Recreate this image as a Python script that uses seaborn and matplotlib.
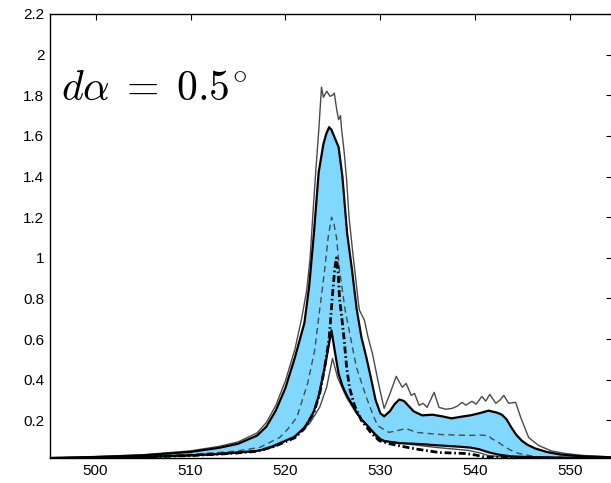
import matplotlib
matplotlib.use("Agg")
import matplotlib.pyplot as plt
import seaborn as sns

# ---------------- data ----------------
X_BAND = [495.3, 500, 505, 510, 513, 515, 517, 518, 519, 520,
          521, 522, 522.5, 523, 523.5, 524, 524.3, 524.6, 524.85, 525.2,
          525.6, 526, 526.5, 527, 527.5, 528, 528.5, 529, 529.5, 530,
          530.4, 531, 531.5, 532, 532.5, 533, 533.5, 534.4, 535.5, 536.5,
          537.5, 538.5, 539.5, 540.4, 541.4, 542.3, 542.8, 543.3, 543.8, 544.3,
          544.9, 545.5, 546.3, 547.5, 549, 551, 554.5]
UPPER = [0.015, 0.020, 0.028, 0.045, 0.065, 0.085, 0.125, 0.17, 0.25, 0.36,
         0.51, 0.68, 0.86, 1.12, 1.42, 1.56, 1.61, 1.643, 1.63, 1.59,
         1.545, 1.40, 1.12, 0.945, 0.75, 0.61, 0.515, 0.41, 0.30, 0.235,
         0.22, 0.245, 0.28, 0.303, 0.295, 0.27, 0.245, 0.225, 0.228, 0.22,
         0.21, 0.218, 0.225, 0.235, 0.248, 0.238, 0.228, 0.205, 0.165, 0.13,
         0.10, 0.08, 0.062, 0.045, 0.032, 0.024, 0.018]
LOWER = [0.012, 0.015, 0.020, 0.028, 0.035, 0.042, 0.050, 0.060, 0.080, 0.100,
         0.120, 0.165, 0.200, 0.245, 0.320, 0.430, 0.500, 0.580, 0.643, 0.540,
         0.430, 0.370, 0.320, 0.280, 0.240, 0.205, 0.180, 0.155, 0.130, 0.108,
         0.098, 0.094, 0.091, 0.088, 0.087, 0.086, 0.085, 0.083, 0.079, 0.076,
         0.073, 0.070, 0.066, 0.058, 0.043, 0.033, 0.029, 0.026, 0.023, 0.022,
         0.021, 0.020, 0.019, 0.018, 0.017, 0.016, 0.014]

X_MAX = [495.3, 500, 505, 510, 513, 515, 517, 518, 519, 520,
         521, 521.7, 522.24, 522.6, 522.9, 523.2, 523.5, 523.8, 524.0, 524.35,
         524.7, 524.95, 525.15, 525.4, 525.6, 525.8, 525.9, 526.2, 526.45, 526.7,
         527.06, 527.4, 527.69, 527.8, 528.32, 528.7, 529.16, 529.89, 530.4, 531.0,
         531.67, 532.3, 532.72, 533.25, 533.6, 534.08, 534.5, 534.92, 535.66, 536.18,
         536.9, 537.54, 538.1, 538.6, 539.0, 539.64, 540.1, 540.69, 541.1, 541.53,
         542.16, 542.6, 543.0, 543.52, 544.25, 544.78, 545.62, 546.66, 548.0, 549.5,
         551.5, 554.5]
Y_MAX = [0.017, 0.022, 0.031, 0.050, 0.072, 0.094, 0.138, 0.19, 0.275, 0.395,
         0.55, 0.70, 0.84, 1.00, 1.22, 1.43, 1.62, 1.84, 1.79, 1.82,
         1.795, 1.80, 1.81, 1.73, 1.68, 1.70, 1.64, 1.515, 1.38, 1.20,
         1.04, 0.90, 0.776, 0.742, 0.693, 0.61, 0.53, 0.363, 0.259, 0.33,
         0.417, 0.363, 0.382, 0.323, 0.333, 0.274, 0.284, 0.264, 0.338, 0.264,
         0.255, 0.259, 0.27, 0.289, 0.275, 0.294, 0.28, 0.318, 0.295, 0.328,
         0.284, 0.30, 0.323, 0.284, 0.289, 0.215, 0.116, 0.077, 0.05, 0.037,
         0.027, 0.02]

X_MID = [495.3, 500, 505, 510, 513, 515, 517.3, 519.4, 520.3, 521.2,
         522.34, 523.08, 523.6, 524.13, 524.5, 524.86, 525.1, 525.38, 525.7, 526.3,
         527.48, 528.53, 529.2, 529.7, 530.2, 530.9, 531.8, 532.7, 533.8, 535.0,
         536.5, 538.0, 539.3, 540.4, 541.4, 541.7, 542.5, 543.2, 543.8, 544.6,
         546.3, 548.0, 551.0, 554.5]
Y_MID = [0.013, 0.017, 0.023, 0.033, 0.042, 0.050, 0.067, 0.116, 0.16, 0.215,
         0.382, 0.545, 0.742, 0.939, 1.10, 1.20, 1.17, 1.10, 0.939, 0.74,
         0.461, 0.313, 0.23, 0.175, 0.16, 0.141, 0.15, 0.16, 0.141, 0.136,
         0.13, 0.128, 0.126, 0.128, 0.125, 0.111, 0.09, 0.067, 0.052, 0.037,
         0.022, 0.018, 0.016, 0.014]

X_MIN = [495.3, 500, 505, 510, 513, 515, 517, 518.68, 520.77, 522.55,
         523.6, 524.34, 524.96, 525.49, 526.43, 527.48, 528.84, 529.58, 530.5, 531.67,
         533.5, 535.87, 537.5, 539.33, 540.5, 541.4, 543.0, 546.0, 550.0, 554.5]
Y_MIN = [0.011, 0.014, 0.019, 0.026, 0.033, 0.040, 0.050, 0.067, 0.116, 0.185,
         0.264, 0.363, 0.505, 0.412, 0.313, 0.234, 0.166, 0.116, 0.10, 0.092,
         0.08, 0.067, 0.06, 0.052, 0.04, 0.027, 0.02, 0.017, 0.015, 0.013]

X_DD = [495.3, 500, 505, 510, 513, 515, 517, 519, 520, 521,
        522, 523, 523.6, 524.13, 524.6, 524.97, 525.2, 525.38, 525.55, 525.7,
        525.95, 526.2, 526.45, 526.75, 527.3, 528.0, 529.0, 529.9, 531.0, 532.3,
        534.08, 536.2, 539.0, 540.0, 541.0, 542.5, 546.0, 550.0, 554.5]
Y_DD = [0.012, 0.015, 0.020, 0.027, 0.034, 0.040, 0.048, 0.075, 0.095, 0.115,
        0.16, 0.24, 0.33, 0.46, 0.60, 0.826, 0.95, 1.00, 0.93, 0.80,
        0.70, 0.59, 0.46, 0.36, 0.27, 0.20, 0.14, 0.10, 0.085, 0.072,
        0.057, 0.042, 0.037, 0.03, 0.02, 0.018, 0.015, 0.014, 0.013]

X_TICKS = [500, 510, 520, 530, 540, 550]
Y_TICKS = [0.2, 0.4, 0.6, 0.8, 1.0, 1.2, 1.4, 1.6, 1.8, 2.0, 2.2]
Y_TICK_LABELS = ["0.2", "0.4", "0.6", "0.8", "1", "1.2", "1.4", "1.6", "1.8", "2", "2.2"]
ANNOTATION = r"$d\alpha\;=\;0.5^{\!\circ}$"

# ---------------- style ----------------
sns.set_theme(style="white")
plt.rcParams["font.family"] = ["Liberation Sans", "DejaVu Sans"]
plt.rcParams["mathtext.fontset"] = "cm"
plt.rcParams["lines.scale_dashes"] = False

fig = plt.figure(figsize=(6.11, 4.83), dpi=100)
ax = fig.add_axes([50 / 611, 25 / 483, 562 / 611, 444 / 483])

GRAY = "#4a4a4a"
ax.fill_between(X_BAND, LOWER, UPPER, color="#80d8ff", lw=0, zorder=1)

sns.lineplot(x=X_MAX, y=Y_MAX, ax=ax, color=GRAY, lw=1.0, errorbar=None, zorder=3)
sns.lineplot(x=X_MIN, y=Y_MIN, ax=ax, color=GRAY, lw=1.0, errorbar=None, zorder=3)
sns.lineplot(x=X_MID, y=Y_MID, ax=ax, color=GRAY, lw=1.0, errorbar=None, zorder=3)
ax.lines[-1].set_dashes([4.5, 3.0])
sns.lineplot(x=X_BAND, y=UPPER, ax=ax, color="black", lw=1.6, errorbar=None, zorder=4)
sns.lineplot(x=X_BAND, y=LOWER, ax=ax, color="black", lw=1.6, errorbar=None, zorder=4)
sns.lineplot(x=X_DD, y=Y_DD, ax=ax, color="black", lw=2.0, errorbar=None, zorder=5)
ax.lines[-1].set_dashes([5.0, 2.0, 1.2, 2.0])

ax.set_xlim(495.2, 554.4)
ax.set_ylim(0.015, 2.2)
ax.set_xticks(X_TICKS)
ax.set_xticklabels([str(t) for t in X_TICKS])
ax.set_yticks(Y_TICKS)
ax.set_yticklabels(Y_TICK_LABELS)
ax.set_xlabel("")
ax.set_ylabel("")

ax.tick_params(direction="in", length=4, width=0.8, top=True, right=True,
               labelsize=11, colors="black", pad=4)
for s in ax.spines.values():
    s.set_color("black")
    s.set_linewidth(1.0)
    s.set_visible(True)

ax.text(0.02, 0.806, ANNOTATION, transform=ax.transAxes, fontsize=30,
        ha="left", va="baseline", color="black")

fig.savefig("out.png", dpi=100)
